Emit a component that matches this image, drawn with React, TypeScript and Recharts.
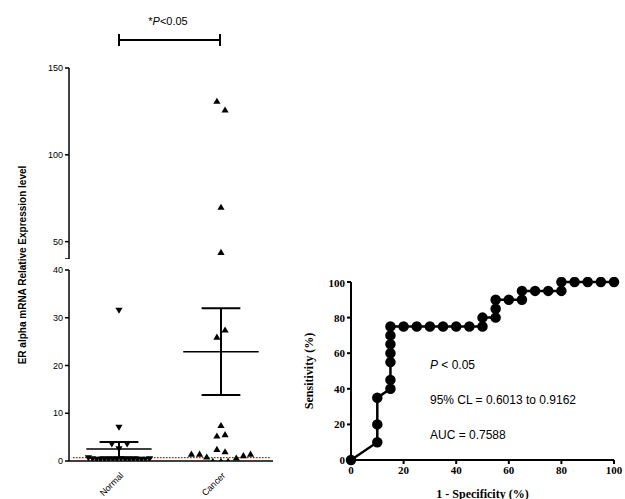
import { ScatterChart, Scatter, LineChart, Line, XAxis, YAxis, ReferenceLine } from "recharts";

// Left panel: scatter of expression levels (x = position within group, y = value)
const normalPoints = [
  { x: 0.49, y: 31.5 }, { x: 0.49, y: 7 }, { x: 0.42, y: 3.5 }, { x: 0.57, y: 3.5 }, { x: 0.49, y: 2.5 },
  { x: 0.19, y: 0.6 }, { x: 0.23, y: 0.4 }, { x: 0.27, y: 0.3 }, { x: 0.31, y: 0.3 }, { x: 0.35, y: 0.3 },
  { x: 0.39, y: 0.3 }, { x: 0.43, y: 0.3 }, { x: 0.47, y: 0.3 }, { x: 0.51, y: 0.4 }, { x: 0.55, y: 0.3 },
  { x: 0.59, y: 0.3 }, { x: 0.63, y: 0.3 }, { x: 0.67, y: 0.3 }, { x: 0.71, y: 0.3 }, { x: 0.75, y: 0.3 }, { x: 0.79, y: 0.4 },
];
const cancerPoints = [
  { x: 1.45, y: 131 }, { x: 1.53, y: 126 }, { x: 1.49, y: 70 }, { x: 1.49, y: 44 },
  { x: 1.53, y: 27.5 }, { x: 1.45, y: 26 }, { x: 1.49, y: 7.5 }, { x: 1.45, y: 5.3 }, { x: 1.53, y: 5.6 },
  { x: 1.45, y: 2.5 }, { x: 1.53, y: 2 }, { x: 1.2, y: 1.5 }, { x: 1.28, y: 1.5 }, { x: 1.35, y: 0.9 },
  { x: 1.41, y: 0 }, { x: 1.49, y: 0 }, { x: 1.56, y: 0 }, { x: 1.64, y: 0.7 }, { x: 1.71, y: 1.2 }, { x: 1.78, y: 1.5 },
];
const groupNames = ["Normal", "Cancer"];
const groupCenters = [0.49, 1.49];
const groupMeans = [2.5, 22.9];
const groupSemLow = [0.8, 13.8];
const groupSemHigh = [4, 32];
const cutoff = 0.7;

// Right panel: ROC curve
const specificity = [0, 10, 10, 10, 15, 15, 15, 15, 15, 15, 15, 20, 25, 30, 35, 40, 45, 50, 50, 55, 55, 55, 60, 65, 65, 70, 75, 80, 80, 85, 90, 95, 100];
const sensitivity = [0, 10, 20, 35, 40, 45, 55, 60, 65, 70, 75, 75, 75, 75, 75, 75, 75, 75, 80, 80, 85, 90, 90, 90, 95, 95, 95, 95, 100, 100, 100, 100, 100];
const rocData = specificity.map((s, i) => ({ x: s, y: sensitivity[i] }));

const ARIAL = "Liberation Sans, Arial, sans-serif";
const TIMES = "Liberation Serif, Times New Roman, serif";

const tickStyle = { fontSize: 9, fill: "#000", fontFamily: ARIAL };

function Tri(props: any) {
  const { cx, cy, down } = props;
  const s = 3.6;
  const d = down
    ? `M${cx - s},${cy - s * 0.8} L${cx + s},${cy - s * 0.8} L${cx},${cy + s * 0.9} Z`
    : `M${cx - s},${cy + s * 0.8} L${cx + s},${cy + s * 0.8} L${cx},${cy - s * 0.9} Z`;
  return <path d={d} fill="#000" />;
}

function GroupTick(props: any) {
  const { x, y, payload } = props;
  const i = groupCenters.indexOf(payload.value);
  const ax = x + 5;
  const ay = y + 7;
  return (
    <text x={ax} y={ay} transform={`rotate(-45 ${ax} ${ay})`} textAnchor="end" fontSize={9} fontFamily={ARIAL} fill="#000">
      {groupNames[i]}
    </text>
  );
}

function statLines(lo: number, hi: number) {
  const out: any[] = [];
  groupCenters.forEach((c, i) => {
    const half = i === 0 ? 0.32 : 0.37;
    const m = groupMeans[i];
    if (m >= lo && m <= hi)
      out.push(<ReferenceLine key={`m${i}`} segment={[{ x: c - half, y: m }, { x: c + half, y: m }]} stroke="#000" strokeWidth={1.5} />);
    [groupSemLow[i], groupSemHigh[i]].forEach((v, j) => {
      if (v >= lo && v <= hi)
        out.push(<ReferenceLine key={`s${i}${j}`} segment={[{ x: c - 0.19, y: v }, { x: c + 0.19, y: v }]} stroke="#000" strokeWidth={2} />);
    });
    out.push(<ReferenceLine key={`v${i}`} segment={[{ x: c, y: Math.max(lo, groupSemLow[i]) }, { x: c, y: Math.min(hi, groupSemHigh[i]) }]} stroke="#000" strokeWidth={2} />);
  });
  return out;
}

export default function App() {
  return (
    <div style={{ position: "absolute", left: 0, top: 0, width: 625, height: 499, background: "#fff", fontFamily: ARIAL, overflow: "hidden" }}>
      {/* significance bracket */}
      <svg width={300} height={60} style={{ position: "absolute", left: 0, top: 0 }}>
        <text x={168} y={25} textAnchor="middle" fontSize={11} fontFamily={ARIAL}>
          *<tspan fontStyle="italic">P</tspan>&lt;0.05
        </text>
        <line x1={119} y1={40} x2={220} y2={40} stroke="#000" strokeWidth={2} />
        <line x1={119} y1={34} x2={119} y2={46} stroke="#000" strokeWidth={2} />
        <line x1={220} y1={34} x2={220} y2={46} stroke="#000" strokeWidth={2} />
      </svg>
      <div style={{ position: "absolute", left: 22, top: 265, transform: "translate(-50%, -50%) rotate(-90deg)", whiteSpace: "nowrap", fontSize: 10, fontWeight: "bold" }}>
        ER alpha mRNA Relative Expression level
      </div>

      {/* upper segment of the broken axis */}
      <div style={{ position: "absolute", left: 0, top: 63 }}>
        <ScatterChart width={280} height={196} margin={{ top: 5, right: 7, bottom: 0, left: 0 }}>
          <XAxis type="number" dataKey="x" domain={[0, 2]} hide />
          <YAxis type="number" dataKey="y" domain={[40, 150]} ticks={[40, 50, 100, 150]} width={69}
            tick={tickStyle} tickFormatter={(v) => (v === 40 ? "" : String(v))} stroke="#000" strokeWidth={1.5} tickSize={4} allowDataOverflow />
          {statLines(40, 150)}
          <Scatter data={cancerPoints.filter((p) => p.y >= 40)} shape={(p: any) => <Tri {...p} />} isAnimationActive={false} />
        </ScatterChart>
      </div>

      {/* lower segment */}
      <div style={{ position: "absolute", left: 0, top: 265 }}>
        <ScatterChart width={280} height={236} margin={{ top: 5, right: 7, bottom: 0, left: 0 }}>
          <XAxis type="number" dataKey="x" domain={[0, 2]} ticks={groupCenters} tick={<GroupTick />} height={40}
            stroke="#000" strokeWidth={1.5} tickLine={false} />
          <YAxis type="number" dataKey="y" domain={[0, 40]} ticks={[0, 10, 20, 30, 40]} width={69}
            tick={tickStyle} stroke="#000" strokeWidth={1.5} tickSize={4} allowDataOverflow />
          <ReferenceLine segment={[{ x: 0.04, y: cutoff }, { x: 1.97, y: cutoff }]} stroke="#e00000" strokeDasharray="1.5 1.5" strokeWidth={1.3} />
          {statLines(0, 40)}
          <Scatter data={normalPoints} shape={(p: any) => <Tri {...p} down />} isAnimationActive={false} />
          <Scatter data={cancerPoints.filter((p) => p.y < 40)} shape={(p: any) => <Tri {...p} />} isAnimationActive={false} />
        </ScatterChart>
      </div>

      {/* ROC curve */}
      <div style={{ position: "absolute", left: 300, top: 277 }}>
        <LineChart width={325} height={225} data={rocData} margin={{ top: 5, right: 11, bottom: 0, left: 0 }}>
          <XAxis type="number" dataKey="x" domain={[0, 100]} ticks={[0, 20, 40, 60, 80, 100]} height={42}
            tick={{ fontSize: 11, fontWeight: "bold", fill: "#000", fontFamily: TIMES }} stroke="#000" strokeWidth={2} tickSize={4}
            label={{ value: "1 - Specificity (%)", position: "insideBottom", offset: 4, fontSize: 12, fontWeight: "bold", fill: "#000", fontFamily: TIMES }} />
          <YAxis type="number" dataKey="y" domain={[0, 100]} ticks={[0, 20, 40, 60, 80, 100]} width={51}
            tick={{ fontSize: 11, fontWeight: "bold", fill: "#000", fontFamily: TIMES }} stroke="#000" strokeWidth={2} tickSize={4} />
          <Line type="linear" dataKey="y" stroke="#000" strokeWidth={2.5} dot={{ r: 4, fill: "#000", stroke: "#000" }} isAnimationActive={false} />
        </LineChart>
      </div>
      <div style={{ position: "absolute", left: 309, top: 371, transform: "translate(-50%, -50%) rotate(-90deg)", whiteSpace: "nowrap", fontSize: 12, fontWeight: "bold", fontFamily: TIMES }}>
        Sensitivity (%)
      </div>
      <div style={{ position: "absolute", left: 430, top: 357, fontSize: 12, lineHeight: "16px" }}>
        <div><i>P</i> &lt; 0.05</div>
        <div style={{ marginTop: 19 }}>95% CL = 0.6013 to 0.9162</div>
        <div style={{ marginTop: 19 }}>AUC = 0.7588</div>
      </div>
    </div>
  );
}
